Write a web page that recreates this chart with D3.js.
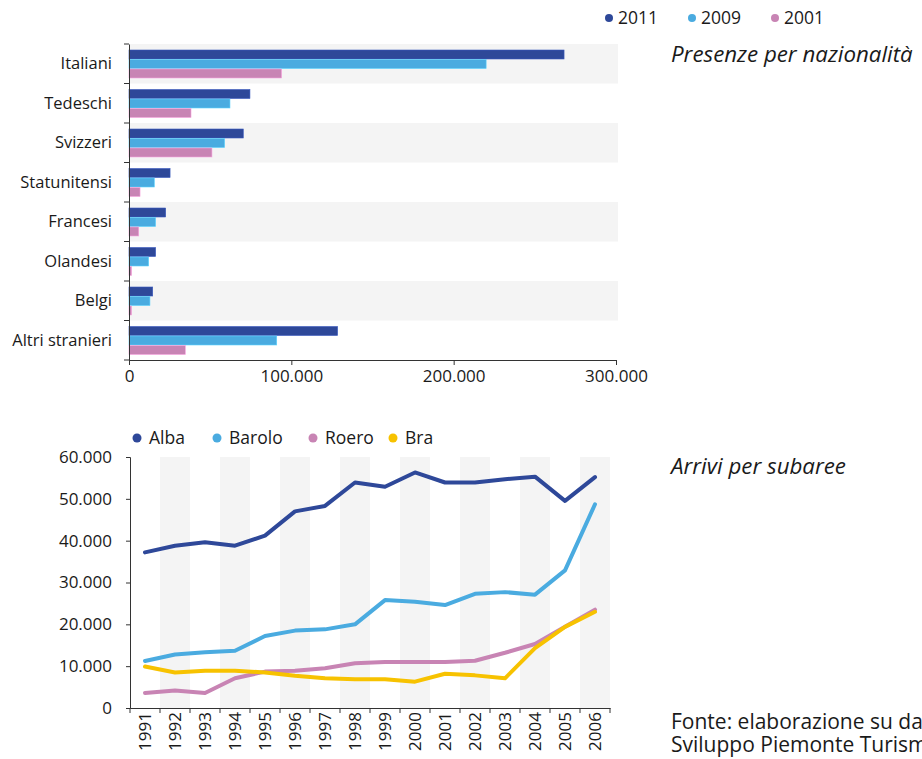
<!DOCTYPE html>
<html><head><meta charset="utf-8">
<script src="https://cdn.jsdelivr.net/npm/d3@7"></script>
<style>
body{margin:0;background:#fff;}
svg text{font-family:"Open Sans",Lato,sans-serif;fill:#1a1a1a;}
</style></head>
<body><svg id="c" width="922" height="759"></svg>
<script>
// ---- bar chart data ----
const nationalities = ["Italiani","Tedeschi","Svizzeri","Statunitensi","Francesi","Olandesi","Belgi","Altri stranieri"];
const barYears = ["2011","2009","2001"];
const pres2011 = [268000,74500,70400,25300,22600,16400,14600,128500];
const pres2009 = [220000,62200,58900,15600,16400,12100,12900,91000];
const pres2001 = [94000,38200,51100,6800,6000,1600,1600,34700];
const barTicks = [0,100000,200000,300000];

// ---- line chart data ----
const years = ["1991","1992","1993","1994","1995","1996","1997","1998","1999","2000","2001","2002","2003","2004","2005","2006"];
const areas = ["Alba","Barolo","Roero","Bra"];
const alba   = [37200,38800,39600,38800,41200,47000,48300,53900,52900,56300,53900,53900,54700,55300,49500,55200];
const barolo = [11250,12800,13300,13700,17200,18500,18800,20000,25800,25400,24600,27300,27700,27100,32900,48700];
const roero  = [3600,4200,3600,7100,8700,8900,9500,10700,11000,11000,11000,11300,13200,15300,19400,23500];
const bra    = [9900,8500,8900,8900,8500,7700,7100,6900,6900,6300,8200,7800,7100,14300,19400,23000];
const lineTicks = [0,10000,20000,30000,40000,50000,60000];

const barColors = {"2011":"#2e4899","2009":"#4aabe0","2001":"#c884b4"};
const lineColors = {"Alba":"#2e4899","Barolo":"#4aabe0","Roero":"#c884b4","Bra":"#f7c200"};
const fmt = v => d3.format(",")(v).replace(/,/g,".");

const svg = d3.select("#c");

// ===== Bar chart =====
const bx = d3.scaleLinear().domain([0,300000]).range([129,616]);
const by = d3.scaleBand().domain(nationalities).range([44,360]);
const sub = d3.scaleBand().domain(barYears).range([6, by.bandwidth()-5]).padding(0);
const barSeries = {"2011":pres2011,"2009":pres2009,"2001":pres2001};

const gb = svg.append("g");
gb.selectAll("rect.bg").data(nationalities.filter((d,i)=>i%2===0)).join("rect")
  .attr("x",129).attr("y",d=>by(d)).attr("width",489).attr("height",by.bandwidth())
  .attr("fill","#f4f4f4");

barYears.forEach(yr=>{
  gb.selectAll(null).data(nationalities).join("rect")
    .attr("x",bx(0)).attr("y",(d)=>by(d)+sub(yr))
    .attr("width",(d,i)=>bx(barSeries[yr][i])-bx(0))
    .attr("height",sub.bandwidth()-0.5)
    .attr("fill",barColors[yr])
    .attr("stroke",d3.color(barColors[yr]).brighter(0.6)).attr("stroke-width",0.6);
});

// y axis (bar)
const bYAxis = gb.append("g").attr("transform","translate(129,0)")
  .call(d3.axisLeft(by).tickSize(0).tickPadding(17));
bYAxis.select(".domain").attr("stroke","#333");
bYAxis.selectAll("text").attr("font-size","16.5px");
gb.selectAll("line.bt").data(d3.range(nationalities.length+1)).join("line")
  .attr("x1",124).attr("x2",129)
  .attr("y1",i=>44+i*by.step()).attr("y2",i=>44+i*by.step())
  .attr("stroke","#333");

const bXAxis = gb.append("g").attr("transform","translate(0,360)")
  .call(d3.axisBottom(bx).tickValues(barTicks).tickFormat(fmt).tickSize(5).tickPadding(5));
bXAxis.select(".domain").attr("stroke","#333");
bXAxis.selectAll("line").attr("stroke","#333");
bXAxis.selectAll("text").attr("font-size","17px");

// legend (bar)
const bl = svg.append("g");
const blx = [609,692,775];
barYears.forEach((yr,i)=>{
  bl.append("circle").attr("cx",blx[i]).attr("cy",18).attr("r",4).attr("fill",barColors[yr]);
  bl.append("text").attr("x",blx[i]+9).attr("y",24).attr("font-size","17.5px").text(yr);
});

svg.append("text").attr("x",671).attr("y",62).attr("font-size","22.3px").attr("font-style","italic")
  .text("Presenze per nazionalità");

// ===== Line chart =====
const lx = d3.scaleBand().domain(years).range([130,610]);
const ly = d3.scaleLinear().domain([0,60000]).range([708,457]);
const lineSeries = {"Alba":alba,"Barolo":barolo,"Roero":roero,"Bra":bra};

const gl = svg.append("g");
gl.selectAll("rect.bg").data(years.filter((d,i)=>i%2===1)).join("rect")
  .attr("x",d=>lx(d)).attr("y",457).attr("width",lx.bandwidth()).attr("height",251)
  .attr("fill","#f4f4f4");

const lYAxis = gl.append("g").attr("transform","translate(130,0)")
  .call(d3.axisLeft(ly).tickValues(lineTicks).tickFormat(fmt).tickSize(4).tickPadding(14));
lYAxis.select(".domain").attr("stroke","#333");
lYAxis.selectAll("line").attr("stroke","#333");
lYAxis.selectAll("text").attr("font-size","17px");

const lXAxis = gl.append("g").attr("transform","translate(0,708)")
  .call(d3.axisBottom(lx).tickSize(0).tickPadding(0));
lXAxis.select(".domain").attr("stroke","#333");
lXAxis.selectAll("text").attr("font-size","17px")
  .attr("transform","rotate(-90)").attr("text-anchor","end")
  .attr("x",-4).attr("y",0).attr("dy","0.36em");
gl.selectAll("line.xt").data(d3.range(years.length+1)).join("line")
  .attr("x1",i=>130+i*lx.step()).attr("x2",i=>130+i*lx.step())
  .attr("y1",708).attr("y2",713).attr("stroke","#333");

const line = d3.line().x((d,i)=>lx(years[i])+lx.bandwidth()/2).y(d=>ly(d));
areas.forEach(a=>{
  gl.append("path").datum(lineSeries[a]).attr("d",line)
    .attr("fill","none").attr("stroke",lineColors[a]).attr("stroke-width",4)
    .attr("stroke-linejoin","round").attr("stroke-linecap","round");
});

// legend (line)
const llx = [137,217,313,393];
areas.forEach((a,i)=>{
  gl.append("circle").attr("cx",llx[i]).attr("cy",438).attr("r",4.5).attr("fill",lineColors[a]);
  gl.append("text").attr("x",llx[i]+12).attr("y",444).attr("font-size","17.5px").text(a);
});

svg.append("text").attr("x",671).attr("y",474).attr("font-size","22.3px").attr("font-style","italic")
  .text("Arrivi per subaree");
svg.append("text").attr("x",671).attr("y",729).attr("font-size","21px")
  .text("Fonte: elaborazione su dati");
svg.append("text").attr("x",671).attr("y",752).attr("font-size","21px")
  .text("Sviluppo Piemonte Turismo");
</script></body></html>
